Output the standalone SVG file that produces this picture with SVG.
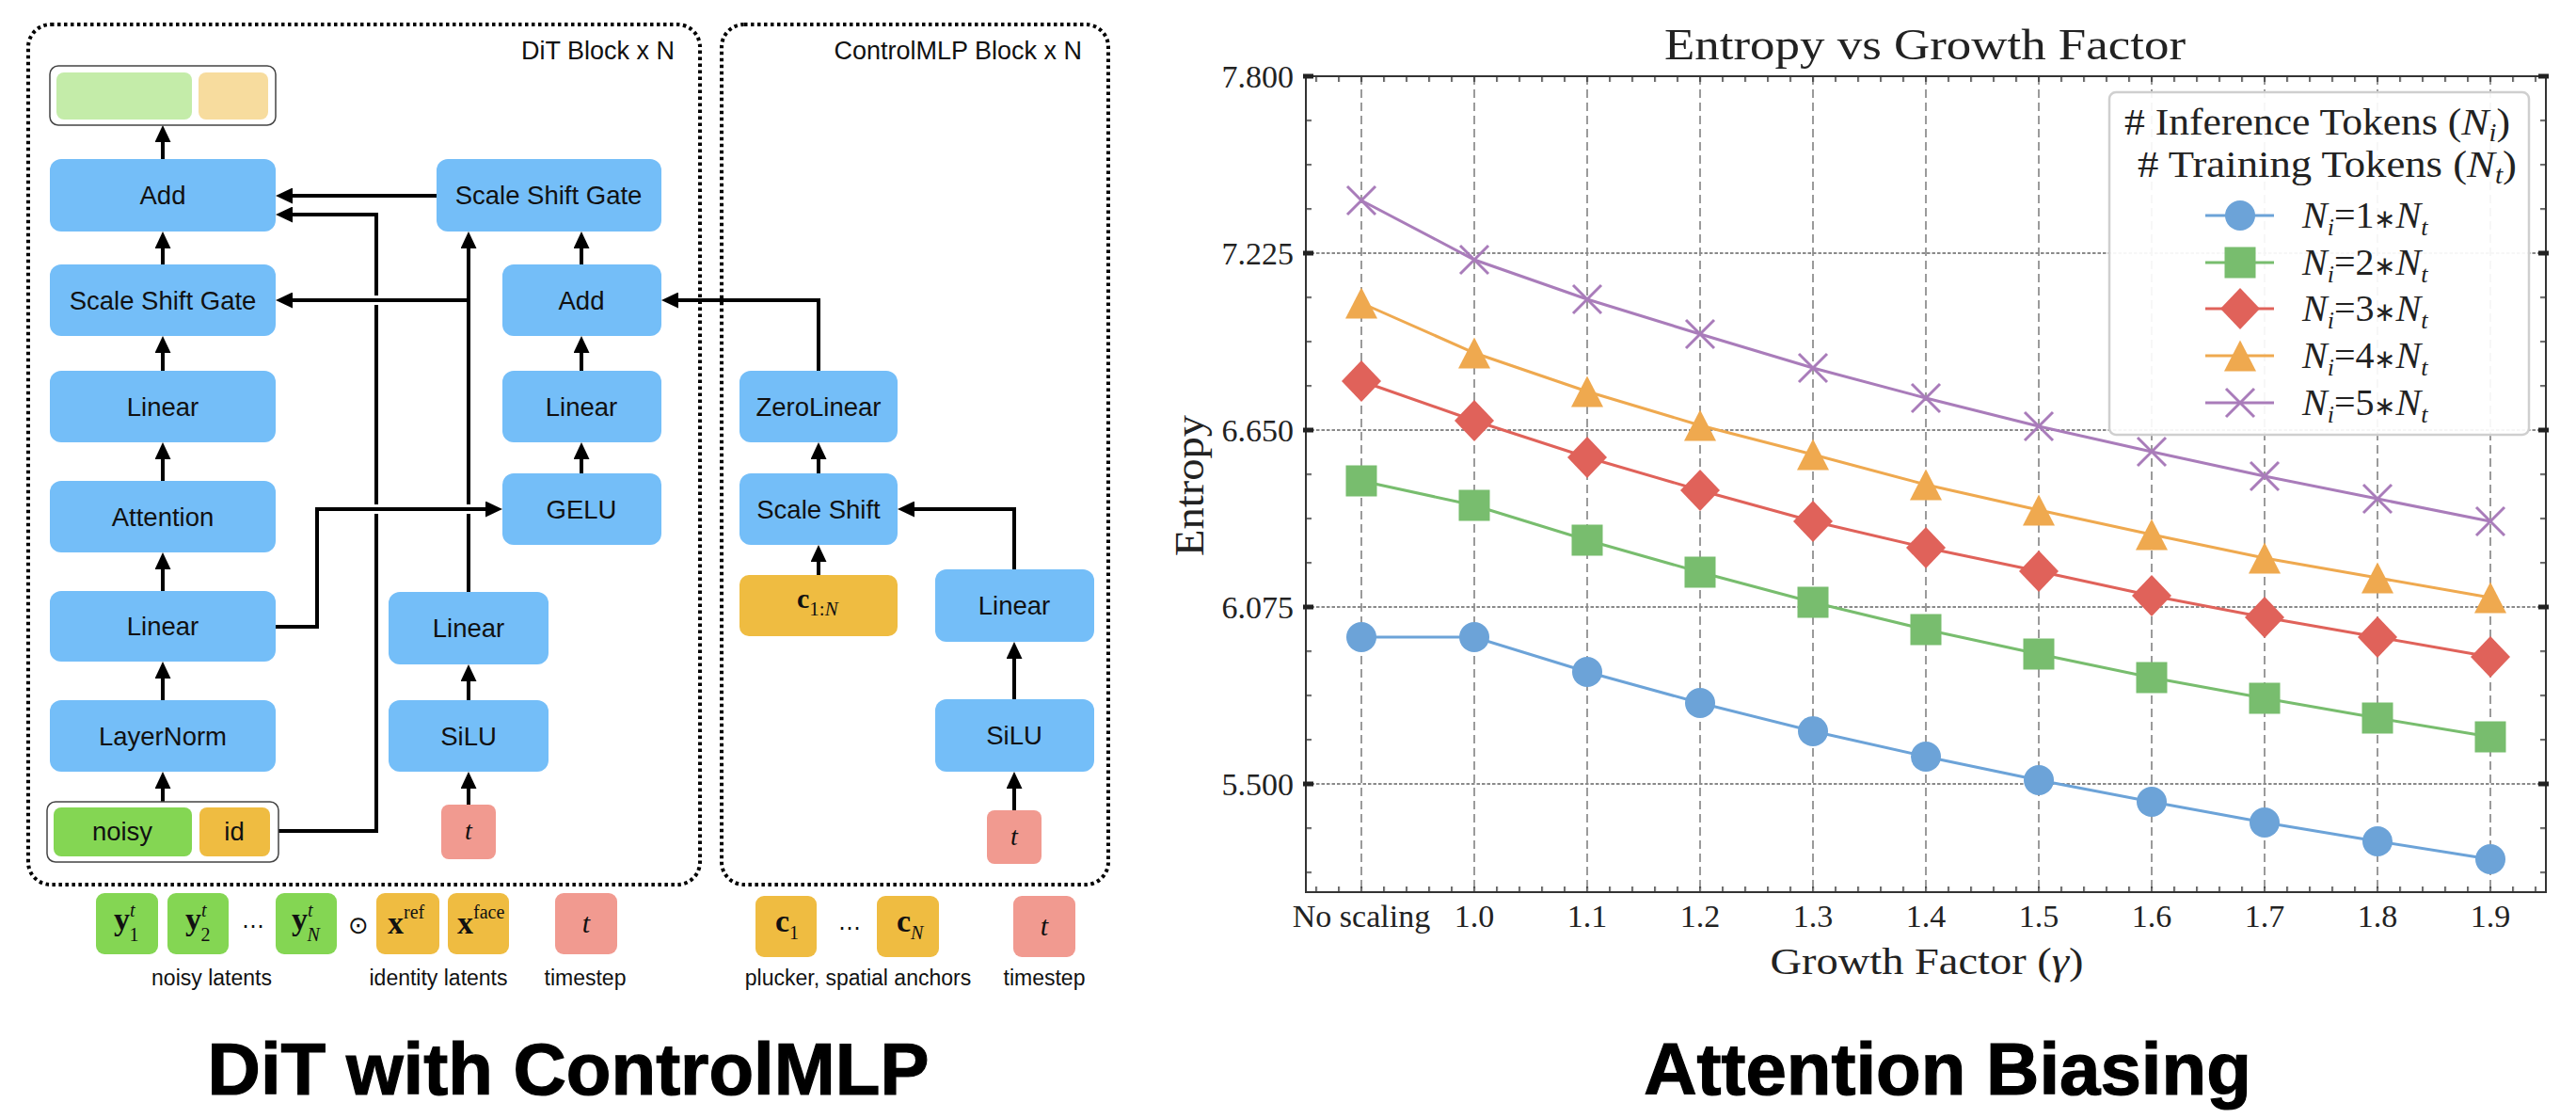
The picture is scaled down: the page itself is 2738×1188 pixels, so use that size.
<svg xmlns="http://www.w3.org/2000/svg" xmlns:xlink="http://www.w3.org/1999/xlink" width="2738" height="1188" viewBox="0 0 2738 1188">
<style>
.box{fill:#74bef8}
.lbl{font-family:"Liberation Sans",Arial,sans-serif;font-size:27.5px;fill:#111;text-anchor:middle}
.hdr{font-family:"Liberation Sans",Arial,sans-serif;font-size:27px;fill:#111;text-anchor:end}
.cap{font-family:"Liberation Sans",Arial,sans-serif;font-size:23px;fill:#111;text-anchor:middle}
.big{font-family:"Liberation Sans",Arial,sans-serif;font-size:78px;font-weight:bold;fill:#000;stroke:#000;stroke-width:1.2;text-anchor:middle}
.conn{fill:none;stroke:#000;stroke-width:4;marker-end:url(#ah)}
.gap{fill:none;stroke:#fff;stroke-width:10}
.frame{fill:none;stroke:#000;stroke-width:4;stroke-dasharray:3.5 3.5}
.math{font-family:"Liberation Serif","Times New Roman",serif;fill:#111}
.tok-g{fill:#84d653}
.tok-o{fill:#efbc41}
.tok-p{fill:#f19a90}
.tl{font-family:"Liberation Serif","Times New Roman",serif;font-size:34px;fill:#222}
.ax{font-family:"Liberation Serif","Times New Roman",serif;fill:#222}
.gx{stroke:#666;stroke-width:1.3;stroke-dasharray:9 5;fill:none}
.gy{stroke:#8a8a8a;stroke-width:2.2;stroke-dasharray:3.5 2;fill:none}
.ln{fill:none;stroke-width:3}
.ast{font-size:28px}
</style>
<defs>
<marker id="ah" markerUnits="userSpaceOnUse" markerWidth="18" markerHeight="17" refX="8" refY="8.5" orient="auto"><path d="M0,0 L18,8.5 L0,17 z" fill="#000"/></marker>
<pattern id="tickX" patternUnits="userSpaceOnUse" x="1398.25" y="0" width="24" height="10"><rect width="1.5" height="10" fill="#333"/></pattern>
<pattern id="tickY" patternUnits="userSpaceOnUse" x="0" y="80.25" width="10" height="47"><rect width="10" height="1.5" fill="#333"/></pattern>
<circle id="mk-c" r="16"/>
<rect id="mk-s" x="-16.5" y="-16.5" width="33" height="33"/>
<path id="mk-d" d="M0,-22 L21,0 L0,22 L-21,0 z"/>
<path id="mk-t" d="M0,-16.5 L17,16.5 L-17,16.5 z"/>
<path id="mk-x" d="M-15,-15 L15,15 M-15,15 L15,-15" stroke-width="3" fill="none"/>
</defs>
<rect width="2738" height="1188" fill="#fff"/>

<!-- ===== Left: DiT with ControlMLP ===== -->
<g id="frame-dit"><rect class="frame" x="30" y="26" width="714" height="914" rx="24"/><text class="hdr" x="717" y="63">DiT Block x N</text></g>
<g id="frame-ctrl"><rect class="frame" x="767" y="26" width="411" height="914" rx="24"/><text class="hdr" x="1150" y="63">ControlMLP Block x N</text></g>

<g id="connectors">
<path class="conn" d="M173,169 V143"/>
<path class="conn" d="M173,281 V256"/>
<path class="conn" d="M173,394 V367"/>
<path class="conn" d="M173,511 V480"/>
<path class="conn" d="M173,628 V597"/>
<path class="conn" d="M173,744 V713"/>
<path class="conn" d="M173,852 V830"/>
<path class="conn" d="M498,855 V830"/>
<path class="conn" d="M498,744 V716"/>
<path class="conn" d="M498,629 V256"/>
<path class="conn" d="M618,503 V480"/>
<path class="conn" d="M618,394 V367"/>
<path class="conn" d="M618,281 V256"/>
<path class="conn" d="M464,208 H303"/>
<path class="conn" d="M296,883 H400 V228 H303"/>
<path class="gap" d="M386,319 H414 M386,541 H414 M484,541 H512"/>
<path class="conn" d="M498,319 H303"/>
<path class="conn" d="M293,666 H337 V541 H524"/>
<path class="conn" d="M870,394 V319 H713"/>
<path class="conn" d="M1078,861 V830"/>
<path class="conn" d="M1078,743 V692"/>
<path class="conn" d="M1078,605 V541 H964"/>
<path class="conn" d="M870,611 V589"/>
<path class="conn" d="M870,503 V480"/>
</g>

<g id="out"><rect x="53" y="70" width="240" height="63" rx="9" fill="#fff" stroke="#444" stroke-width="1.5"/><rect x="60" y="77" width="144" height="50" rx="8" fill="#c4eca9"/><rect x="211" y="77" width="74" height="50" rx="8" fill="#f7dc9e"/></g>
<g id="add1"><rect class="box" x="53" y="169" width="240" height="77" rx="12"/><text class="lbl" x="173" y="217">Add</text></g>
<g id="ssg1"><rect class="box" x="53" y="281" width="240" height="76" rx="12"/><text class="lbl" x="173" y="329">Scale Shift Gate</text></g>
<g id="lin1"><rect class="box" x="53" y="394" width="240" height="76" rx="12"/><text class="lbl" x="173" y="442">Linear</text></g>
<g id="attn"><rect class="box" x="53" y="511" width="240" height="76" rx="12"/><text class="lbl" x="173" y="559">Attention</text></g>
<g id="lin2"><rect class="box" x="53" y="628" width="240" height="75" rx="12"/><text class="lbl" x="173" y="675">Linear</text></g>
<g id="ln"><rect class="box" x="53" y="744" width="240" height="76" rx="12"/><text class="lbl" x="173" y="792">LayerNorm</text></g>
<g id="inp"><rect x="50" y="852" width="246" height="64" rx="9" fill="#fff" stroke="#444" stroke-width="1.5"/><rect class="tok-g" x="57" y="858" width="147" height="52" rx="8"/><text class="lbl" x="130" y="893">noisy</text><rect class="tok-o" x="212" y="858" width="75" height="52" rx="8"/><text class="lbl" x="249" y="893">id</text></g>
<g id="lin3"><rect class="box" x="413" y="629" width="170" height="77" rx="12"/><text class="lbl" x="498" y="677">Linear</text></g>
<g id="silu1"><rect class="box" x="413" y="744" width="170" height="76" rx="12"/><text class="lbl" x="498" y="792">SiLU</text></g>
<g id="t1"><rect class="tok-p" x="469" y="855" width="58" height="58" rx="8"/><text class="math" x="498" y="892" font-size="28" font-style="italic" text-anchor="middle">t</text></g>
<g id="ssg2"><rect class="box" x="464" y="169" width="239" height="77" rx="12"/><text class="lbl" x="583" y="217">Scale Shift Gate</text></g>
<g id="add2"><rect class="box" x="534" y="281" width="169" height="76" rx="12"/><text class="lbl" x="618" y="329">Add</text></g>
<g id="lin4"><rect class="box" x="534" y="394" width="169" height="76" rx="12"/><text class="lbl" x="618" y="442">Linear</text></g>
<g id="gelu"><rect class="box" x="534" y="503" width="169" height="76" rx="12"/><text class="lbl" x="618" y="551">GELU</text></g>
<g id="zl"><rect class="box" x="786" y="394" width="168" height="76" rx="12"/><text class="lbl" x="870" y="442">ZeroLinear</text></g>
<g id="ss"><rect class="box" x="786" y="503" width="168" height="76" rx="12"/><text class="lbl" x="870" y="551">Scale Shift</text></g>
<g id="c1N"><rect class="tok-o" x="786" y="611" width="168" height="65" rx="10"/><text class="math" x="847" y="646" font-size="30"><tspan font-weight="bold">c</tspan><tspan font-size="21" dy="8">1:</tspan><tspan font-size="21" font-style="italic">N</tspan></text></g>
<g id="lin5"><rect class="box" x="994" y="605" width="169" height="77" rx="12"/><text class="lbl" x="1078" y="653">Linear</text></g>
<g id="silu2"><rect class="box" x="994" y="743" width="169" height="77" rx="12"/><text class="lbl" x="1078" y="791">SiLU</text></g>
<g id="t2"><rect class="tok-p" x="1049" y="861" width="58" height="57" rx="8"/><text class="math" x="1078" y="898" font-size="28" font-style="italic" text-anchor="middle">t</text></g>

<g id="tokens">
<rect class="tok-g" x="102" y="949" width="66" height="65" rx="9"/>
<text class="math" x="121" y="988" font-size="34"><tspan font-weight="bold">y</tspan><tspan font-size="20" font-style="italic" dy="-14">t</tspan><tspan font-size="20" dx="-6" dy="26">1</tspan></text>
<rect class="tok-g" x="178" y="949" width="65" height="65" rx="9"/>
<text class="math" x="197" y="988" font-size="34"><tspan font-weight="bold">y</tspan><tspan font-size="20" font-style="italic" dy="-14">t</tspan><tspan font-size="20" dx="-6" dy="26">2</tspan></text>
<text x="269" y="992" font-family="DejaVu Sans, sans-serif" font-size="24" fill="#111" text-anchor="middle">⋯</text>
<rect class="tok-g" x="293" y="949" width="65" height="65" rx="9"/>
<text class="math" x="310" y="988" font-size="34"><tspan font-weight="bold">y</tspan><tspan font-size="20" font-style="italic" dy="-14">t</tspan><tspan font-size="20" font-style="italic" dx="-6" dy="26">N</tspan></text>
<text x="381" y="992" font-family="DejaVu Sans, sans-serif" font-size="26" fill="#111" text-anchor="middle">⊙</text>
<rect class="tok-o" x="400" y="949" width="67" height="65" rx="9"/>
<text class="math" x="412" y="992" font-size="34"><tspan font-weight="bold">x</tspan><tspan font-size="20" dy="-16">ref</tspan></text>
<rect class="tok-o" x="476" y="949" width="65" height="65" rx="9"/>
<text class="math" x="486" y="992" font-size="34"><tspan font-weight="bold">x</tspan><tspan font-size="20" dy="-16">face</tspan></text>
<rect class="tok-p" x="590" y="949" width="66" height="65" rx="9"/>
<text class="math" x="623" y="991" font-size="30" font-style="italic" text-anchor="middle">t</text>
<rect class="tok-o" x="803" y="952" width="65" height="65" rx="9"/>
<text class="math" x="824" y="990" font-size="34"><tspan font-weight="bold">c</tspan><tspan font-size="20" dy="8">1</tspan></text>
<text x="903" y="994" font-family="DejaVu Sans, sans-serif" font-size="24" fill="#111" text-anchor="middle">⋯</text>
<rect class="tok-o" x="932" y="952" width="66" height="65" rx="9"/>
<text class="math" x="953" y="990" font-size="34"><tspan font-weight="bold">c</tspan><tspan font-size="20" font-style="italic" dy="8">N</tspan></text>
<rect class="tok-p" x="1077" y="952" width="66" height="65" rx="9"/>
<text class="math" x="1110" y="994" font-size="30" font-style="italic" text-anchor="middle">t</text>
<text class="cap" x="225" y="1047">noisy latents</text>
<text class="cap" x="466" y="1047">identity latents</text>
<text class="cap" x="622" y="1047">timestep</text>
<text class="cap" x="912" y="1047">plucker, spatial anchors</text>
<text class="cap" x="1110" y="1047">timestep</text>
</g>
<text class="big" x="604" y="1163">DiT with ControlMLP</text>

<!-- ===== Right: chart ===== -->
<g id="chart">
<text class="ax" x="2046" y="63" font-size="46" text-anchor="middle" textLength="554" lengthAdjust="spacingAndGlyphs">Entropy vs Growth Factor</text>
<g id="grid">
<path class="gx" d="M1447,81V948 M1567,81V948 M1687,81V948 M1807,81V948 M1927,81V948 M2047,81V948 M2167,81V948 M2287,81V948 M2407,81V948 M2527,81V948 M2647,81V948"/>
<path class="gy" d="M1388,269H2706 M1388,457H2706 M1388,645H2706 M1388,833H2706"/>
</g>
<g id="series">
<polyline class="ln" stroke="#6ca3d8" points="1447,677 1567,677 1687,714 1807,747 1927,777 2047,804 2167,829 2287,852 2407,874 2527,894 2647,913"/>
<polyline class="ln" stroke="#78bd6e" points="1447,511 1567,537 1687,574 1807,608 1927,640 2047,669 2167,695 2287,720 2407,742 2527,763 2647,783"/>
<polyline class="ln" stroke="#e0625a" points="1447,405 1567,447 1687,486 1807,521 1927,554 2047,582 2167,607 2287,633 2407,656 2527,677 2647,698"/>
<polyline class="ln" stroke="#efa94f" points="1447,322 1567,375 1687,416 1807,452 1927,483 2047,515 2167,542 2287,568 2407,593 2527,614 2647,635"/>
<polyline class="ln" stroke="#a97cba" points="1447,213 1567,276 1687,318 1807,355 1927,391 2047,423 2167,453 2287,480 2407,506 2527,530 2647,554"/>
<g fill="#6ca3d8"><use href="#mk-c" x="1447" y="677"/><use href="#mk-c" x="1567" y="677"/><use href="#mk-c" x="1687" y="714"/><use href="#mk-c" x="1807" y="747"/><use href="#mk-c" x="1927" y="777"/><use href="#mk-c" x="2047" y="804"/><use href="#mk-c" x="2167" y="829"/><use href="#mk-c" x="2287" y="852"/><use href="#mk-c" x="2407" y="874"/><use href="#mk-c" x="2527" y="894"/><use href="#mk-c" x="2647" y="913"/></g>
<g fill="#78bd6e"><use href="#mk-s" x="1447" y="511"/><use href="#mk-s" x="1567" y="537"/><use href="#mk-s" x="1687" y="574"/><use href="#mk-s" x="1807" y="608"/><use href="#mk-s" x="1927" y="640"/><use href="#mk-s" x="2047" y="669"/><use href="#mk-s" x="2167" y="695"/><use href="#mk-s" x="2287" y="720"/><use href="#mk-s" x="2407" y="742"/><use href="#mk-s" x="2527" y="763"/><use href="#mk-s" x="2647" y="783"/></g>
<g fill="#e0625a"><use href="#mk-d" x="1447" y="405"/><use href="#mk-d" x="1567" y="447"/><use href="#mk-d" x="1687" y="486"/><use href="#mk-d" x="1807" y="521"/><use href="#mk-d" x="1927" y="554"/><use href="#mk-d" x="2047" y="582"/><use href="#mk-d" x="2167" y="607"/><use href="#mk-d" x="2287" y="633"/><use href="#mk-d" x="2407" y="656"/><use href="#mk-d" x="2527" y="677"/><use href="#mk-d" x="2647" y="698"/></g>
<g fill="#efa94f"><use href="#mk-t" x="1447" y="322"/><use href="#mk-t" x="1567" y="375"/><use href="#mk-t" x="1687" y="416"/><use href="#mk-t" x="1807" y="452"/><use href="#mk-t" x="1927" y="483"/><use href="#mk-t" x="2047" y="515"/><use href="#mk-t" x="2167" y="542"/><use href="#mk-t" x="2287" y="568"/><use href="#mk-t" x="2407" y="593"/><use href="#mk-t" x="2527" y="614"/><use href="#mk-t" x="2647" y="635"/></g>
<g stroke="#a97cba" fill="none"><use href="#mk-x" x="1447" y="213"/><use href="#mk-x" x="1567" y="276"/><use href="#mk-x" x="1687" y="318"/><use href="#mk-x" x="1807" y="355"/><use href="#mk-x" x="1927" y="391"/><use href="#mk-x" x="2047" y="423"/><use href="#mk-x" x="2167" y="453"/><use href="#mk-x" x="2287" y="480"/><use href="#mk-x" x="2407" y="506"/><use href="#mk-x" x="2527" y="530"/><use href="#mk-x" x="2647" y="554"/></g>
</g>
<g id="legend">
<rect x="2242" y="98" width="446" height="364" rx="7" fill="#fff" fill-opacity="0.92" stroke="#cfcfcf" stroke-width="2.5"/>
<text class="ax" x="2258" y="143" font-size="41" textLength="410" lengthAdjust="spacingAndGlyphs"># Inference Tokens (<tspan font-style="italic">N</tspan><tspan font-style="italic" font-size="27" dy="7">i</tspan><tspan dy="-7">)</tspan></text>
<text class="ax" x="2272" y="188" font-size="41" textLength="403" lengthAdjust="spacingAndGlyphs"># Training Tokens (<tspan font-style="italic">N</tspan><tspan font-style="italic" font-size="27" dy="7">t</tspan><tspan dy="-7">)</tspan></text>
<path class="ln" stroke="#6ca3d8" d="M2344,229H2417"/><use href="#mk-c" x="2381" y="229" fill="#6ca3d8"/>
<path class="ln" stroke="#78bd6e" d="M2344,279H2417"/><use href="#mk-s" x="2381" y="279" fill="#78bd6e"/>
<path class="ln" stroke="#e0625a" d="M2344,328H2417"/><use href="#mk-d" x="2381" y="328" fill="#e0625a"/>
<path class="ln" stroke="#efa94f" d="M2344,378H2417"/><use href="#mk-t" x="2381" y="378" fill="#efa94f"/>
<path class="ln" stroke="#a97cba" d="M2344,428H2417"/><use href="#mk-x" x="2381" y="428" stroke="#a97cba"/>
<text class="ax" x="2447" y="242" font-size="40"><tspan font-style="italic">N</tspan><tspan font-style="italic" font-size="26" dy="8">i</tspan><tspan dy="-8">=1</tspan><tspan class="ast">∗</tspan><tspan font-style="italic">N</tspan><tspan font-style="italic" font-size="26" dy="8">t</tspan></text>
<text class="ax" x="2447" y="292" font-size="40"><tspan font-style="italic">N</tspan><tspan font-style="italic" font-size="26" dy="8">i</tspan><tspan dy="-8">=2</tspan><tspan class="ast">∗</tspan><tspan font-style="italic">N</tspan><tspan font-style="italic" font-size="26" dy="8">t</tspan></text>
<text class="ax" x="2447" y="341" font-size="40"><tspan font-style="italic">N</tspan><tspan font-style="italic" font-size="26" dy="8">i</tspan><tspan dy="-8">=3</tspan><tspan class="ast">∗</tspan><tspan font-style="italic">N</tspan><tspan font-style="italic" font-size="26" dy="8">t</tspan></text>
<text class="ax" x="2447" y="391" font-size="40"><tspan font-style="italic">N</tspan><tspan font-style="italic" font-size="26" dy="8">i</tspan><tspan dy="-8">=4</tspan><tspan class="ast">∗</tspan><tspan font-style="italic">N</tspan><tspan font-style="italic" font-size="26" dy="8">t</tspan></text>
<text class="ax" x="2447" y="441" font-size="40"><tspan font-style="italic">N</tspan><tspan font-style="italic" font-size="26" dy="8">i</tspan><tspan dy="-8">=5</tspan><tspan class="ast">∗</tspan><tspan font-style="italic">N</tspan><tspan font-style="italic" font-size="26" dy="8">t</tspan></text>
</g>
<g id="axes">
<rect x="1388" y="81" width="1318" height="867" fill="none" stroke="#333" stroke-width="2"/>
<rect x="1390" y="942" width="1314" height="6" fill="url(#tickX)"/>
<rect x="1390" y="81" width="1314" height="6" fill="url(#tickX)"/>
<rect x="1388" y="83" width="6" height="862" fill="url(#tickY)"/>
<rect x="2700" y="83" width="6" height="862" fill="url(#tickY)"/>
<g fill="#222"><rect x="1385" y="78.5" width="11" height="5"/><rect x="1385" y="266.5" width="11" height="5"/><rect x="1385" y="454.5" width="11" height="5"/><rect x="1385" y="642.5" width="11" height="5"/><rect x="1385" y="830.5" width="11" height="5"/><rect x="2698" y="78.5" width="11" height="5"/><rect x="2698" y="266.5" width="11" height="5"/><rect x="2698" y="454.5" width="11" height="5"/><rect x="2698" y="642.5" width="11" height="5"/><rect x="2698" y="830.5" width="11" height="5"/></g>
<g class="tl" text-anchor="end"><text x="1375" y="93">7.800</text><text x="1375" y="281">7.225</text><text x="1375" y="469">6.650</text><text x="1375" y="657">6.075</text><text x="1375" y="845">5.500</text></g>
<g class="tl" text-anchor="middle"><text x="1447" y="985">No scaling</text><text x="1567" y="985">1.0</text><text x="1687" y="985">1.1</text><text x="1807" y="985">1.2</text><text x="1927" y="985">1.3</text><text x="2047" y="985">1.4</text><text x="2167" y="985">1.5</text><text x="2287" y="985">1.6</text><text x="2407" y="985">1.7</text><text x="2527" y="985">1.8</text><text x="2647" y="985">1.9</text></g>
<text class="ax" x="2048" y="1035" font-size="40" text-anchor="middle" textLength="333" lengthAdjust="spacingAndGlyphs">Growth Factor (<tspan font-style="italic">γ</tspan>)</text>
<text class="ax" transform="translate(1279,516) rotate(-90)" x="0" y="0" font-size="44" text-anchor="middle" textLength="150" lengthAdjust="spacingAndGlyphs">Entropy</text>
</g>
</g>
<text class="big" x="2070" y="1163">Attention Biasing</text>
</svg>
